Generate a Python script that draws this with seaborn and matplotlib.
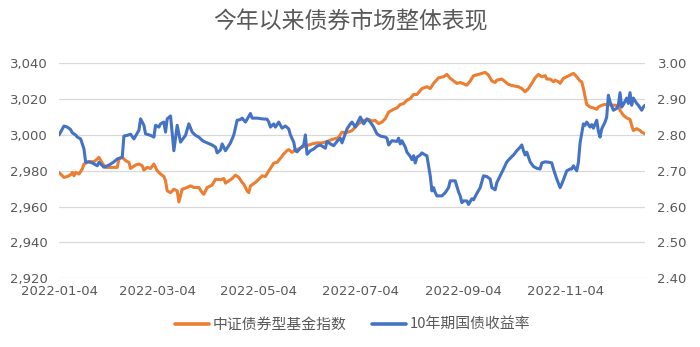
import numpy as np
import pandas as pd
import matplotlib
matplotlib.use("Agg")
import matplotlib.pyplot as plt
from matplotlib.ticker import FuncFormatter
import seaborn as sns

# ---------------- data ----------------
start_date = "2022-01-04"
title = "今年以来债券市场整体表现"
fund_name = "中证债券型基金指数"
yield_name = "10年期国债收益率"

# days since 2022-01-04
fund_days = [0, 3, 5, 7, 8, 9, 10, 12, 14, 15, 18, 21, 23, 24, 26, 28, 35, 36, 38, 40,
             42, 43, 46, 48, 50, 51, 53, 55, 57, 59, 61, 63, 64, 65, 67, 69, 71, 72, 74, 77,
             79, 81, 84, 86, 87, 89, 92, 94, 97, 99, 100, 102, 104, 106, 108, 110, 111, 113, 114, 115,
             118, 120, 122, 124, 126, 127, 129, 131, 133, 135, 137, 138, 140, 142, 143, 146, 149, 152, 155, 158,
             161, 164, 167, 168, 170, 172, 175, 176, 178, 180, 183, 186, 188, 190, 192, 194, 196, 198, 201, 203,
             205, 207, 209, 211, 213, 215, 218, 221, 223, 225, 228, 231, 233, 235, 239, 241, 245, 247, 249, 252,
             254, 256, 258, 260, 262, 263, 266, 268, 270, 273, 276, 278, 280, 282, 284, 286, 288, 290, 292, 293,
             295, 297, 298, 300, 301, 303, 305, 307, 309, 311, 313, 314, 315, 316, 317, 319, 321, 323, 324, 326,
             328, 330, 332, 334, 336, 337, 339, 341, 343, 344, 345, 347, 349, 350, 352]
fund_values = [2979.1, 2976.3, 2976.8, 2977.8, 2979.1, 2977.2, 2979.1, 2978.2, 2981.0, 2983.8,
               2985.1, 2985.1, 2986.6, 2987.5, 2984.3, 2981.9, 2981.9, 2986.6, 2987.5, 2985.7,
               2984.7, 2981.3, 2983.2, 2983.8, 2982.8, 2980.4, 2981.9, 2981.3, 2983.8, 2980.0,
               2978.2, 2976.8, 2974.4, 2968.8, 2967.8, 2969.7, 2968.8, 2962.6, 2969.7, 2970.7,
               2971.6, 2970.7, 2970.7, 2967.8, 2966.9, 2970.7, 2972.0, 2975.3, 2975.0, 2975.7,
               2973.1, 2974.4, 2975.7, 2977.6, 2976.3, 2973.5, 2972.5, 2968.8, 2967.8, 2971.6,
               2973.5, 2975.3, 2977.2, 2976.8, 2980.0, 2981.3, 2984.3, 2984.7, 2987.0, 2989.4,
               2991.3, 2991.8, 2990.3, 2991.7, 2991.8, 2993.2, 2994.1, 2995.0, 2995.6, 2995.6,
               2996.3, 2997.5, 2998.2, 2998.8, 3001.6, 3001.2, 3002.0, 3002.5, 3004.4, 3006.3,
               3008.1, 3008.7, 3007.8, 3008.1, 3006.3, 3007.2, 3009.1, 3012.8, 3014.3, 3015.1,
               3017.0, 3017.5, 3019.4, 3020.3, 3022.6, 3022.6, 3025.9, 3026.9, 3025.9, 3028.8,
               3031.9, 3032.5, 3033.8, 3031.6, 3028.8, 3029.3, 3027.8, 3030.1, 3033.1, 3033.8,
               3034.4, 3034.9, 3033.4, 3030.1, 3029.3, 3030.6, 3031.2, 3029.7, 3028.2, 3027.4,
               3026.9, 3025.9, 3024.1, 3025.9, 3028.8, 3031.9, 3033.8, 3032.5, 3033.1, 3031.2,
               3031.2, 3029.7, 3030.6, 3029.7, 3028.8, 3031.6, 3032.5, 3033.4, 3034.4, 3032.5,
               3030.1, 3029.7, 3025.9, 3021.3, 3017.0, 3015.6, 3015.1, 3014.3, 3015.6, 3016.6,
               3017.0, 3017.0, 3016.6, 3016.6, 3016.2, 3013.8, 3011.0, 3009.5, 3008.7, 3005.3,
               3002.5, 3003.5, 3002.5, 3001.6, 3000.6]

yield_days = [0, 3, 5, 7, 8, 10, 11, 13, 15, 16, 18, 20, 23, 24, 27, 30, 33, 35, 38, 39,
              41, 43, 45, 48, 49, 51, 52, 55, 57, 58, 60, 61, 63, 64, 65, 67, 69, 71, 73, 76,
              78, 80, 82, 84, 86, 87, 89, 92, 94, 95, 97, 98, 100, 103, 105, 107, 109, 110, 112, 113,
              115, 116, 119, 122, 125, 126, 127, 129, 130, 132, 134, 136, 138, 139, 141, 142, 143, 145, 147, 148,
              149, 151, 153, 155, 157, 160, 161, 163, 165, 167, 169, 170, 173, 175, 176, 178, 180, 181, 183, 185,
              187, 189, 191, 193, 196, 197, 198, 200, 203, 204, 205, 206, 208, 209, 211, 212, 213, 214, 215, 217,
              218, 220, 221, 223, 224, 225, 226, 227, 230, 232, 234, 235, 238, 240, 241, 242, 243, 245, 246, 248,
              249, 251, 253, 255, 257, 259, 260, 262, 263, 265, 267, 269, 271, 273, 275, 277, 278, 279, 280, 281,
              283, 285, 287, 289, 290, 292, 294, 296, 297, 299, 301, 302, 303, 305, 307, 308, 309, 311, 312, 313,
              315, 316, 317, 319, 320, 321, 323, 324, 325, 326, 328, 329, 330, 331, 333, 335, 336, 337, 338, 339,
              341, 342, 343, 344, 345, 347, 348, 350, 351, 352]
yield_values = [2.800, 2.825, 2.822, 2.815, 2.806, 2.800, 2.794, 2.789, 2.761, 2.724,
                2.725, 2.722, 2.714, 2.724, 2.710, 2.716, 2.725, 2.733, 2.738, 2.797,
                2.799, 2.802, 2.789, 2.813, 2.845, 2.827, 2.803, 2.799, 2.794, 2.827,
                2.822, 2.831, 2.836, 2.808, 2.845, 2.853, 2.756, 2.827, 2.780, 2.799,
                2.831, 2.808, 2.799, 2.794, 2.785, 2.782, 2.778, 2.772, 2.766, 2.750,
                2.758, 2.775, 2.756, 2.778, 2.800, 2.841, 2.843, 2.847, 2.836, 2.844,
                2.860, 2.847, 2.847, 2.845, 2.844, 2.836, 2.822, 2.831, 2.822, 2.836,
                2.819, 2.825, 2.817, 2.800, 2.780, 2.756, 2.753, 2.763, 2.772, 2.800,
                2.746, 2.756, 2.761, 2.769, 2.772, 2.763, 2.782, 2.775, 2.770, 2.782,
                2.791, 2.778, 2.817, 2.831, 2.836, 2.822, 2.841, 2.850, 2.831, 2.845,
                2.836, 2.822, 2.803, 2.797, 2.794, 2.791, 2.772, 2.784, 2.782, 2.791,
                2.775, 2.784, 2.766, 2.752, 2.740, 2.731, 2.742, 2.722, 2.738, 2.744,
                2.750, 2.744, 2.742, 2.686, 2.644, 2.653, 2.639, 2.630, 2.630, 2.639,
                2.653, 2.672, 2.672, 2.641, 2.630, 2.611, 2.616, 2.616, 2.606, 2.622,
                2.619, 2.637, 2.653, 2.686, 2.684, 2.677, 2.653, 2.647, 2.667, 2.686,
                2.705, 2.725, 2.735, 2.744, 2.756, 2.766, 2.772, 2.756, 2.744, 2.752,
                2.725, 2.712, 2.707, 2.705, 2.722, 2.725, 2.724, 2.722, 2.705, 2.677,
                2.653, 2.663, 2.675, 2.700, 2.705, 2.705, 2.714, 2.700, 2.724, 2.778,
                2.831, 2.827, 2.836, 2.822, 2.829, 2.819, 2.841, 2.810, 2.794, 2.817,
                2.836, 2.850, 2.911, 2.892, 2.869, 2.874, 2.883, 2.918, 2.878, 2.885,
                2.903, 2.888, 2.918, 2.883, 2.903, 2.888, 2.883, 2.869, 2.878, 2.883]

x_tick_labels = ["2022-01-04", "2022-03-04", "2022-05-04", "2022-07-04", "2022-09-04", "2022-11-04"]
left_ticks = [2920, 2940, 2960, 2980, 3000, 3020, 3040]
right_ticks = [2.40, 2.50, 2.60, 2.70, 2.80, 2.90, 3.00]
end_day = 352

# ---------------- build frames ----------------
t0 = pd.Timestamp(start_date)
fund_df = pd.DataFrame({"date": t0 + pd.to_timedelta(fund_days, unit="D"), "value": fund_values})
yield_df = pd.DataFrame({"date": t0 + pd.to_timedelta(yield_days, unit="D"), "value": yield_values})

sns.set_style("white")
plt.rcParams["font.family"] = ["DejaVu Sans", "Noto Sans CJK SC"]

TEXT = "#595959"
ORANGE = "#ED7D31"
BLUE = "#4472C4"
GRID = "#D9D9D9"

fig = plt.figure(figsize=(7.0, 3.47), dpi=100)
ax = fig.add_axes([59 / 700, 1 - 278.3 / 347, (645 - 59) / 700, (278.3 - 63.3) / 347])
ax2 = ax.twinx()

sns.lineplot(data=fund_df, x="date", y="value", ax=ax, color=ORANGE, linewidth=2.2,
             estimator=None, sort=False, label=fund_name, legend=False)
sns.lineplot(data=yield_df, x="date", y="value", ax=ax2, color=BLUE, linewidth=2.2,
             estimator=None, sort=False, label=yield_name, legend=False)

ax.set_xlim(t0, t0 + pd.Timedelta(days=end_day))
ax.set_ylim(left_ticks[0], left_ticks[-1])
ax2.set_ylim(right_ticks[0], right_ticks[-1])

xt = [pd.Timestamp(s) for s in x_tick_labels]
ax.set_xticks(xt)
ax.set_xticklabels(x_tick_labels)
ax.set_yticks(left_ticks)
ax.yaxis.set_major_formatter(FuncFormatter(lambda v, p: f"{v:,.0f}"))
ax2.set_yticks(right_ticks)
ax2.yaxis.set_major_formatter(FuncFormatter(lambda v, p: f"{v:.2f}"))

for a in (ax, ax2):
    for s in a.spines.values():
        s.set_visible(False)
    a.set_xlabel("")
    a.set_ylabel("")
    a.tick_params(length=0, labelsize=9.5, labelcolor=TEXT)
ax.tick_params(axis="y", pad=8)
ax2.tick_params(axis="y", pad=9)
ax.tick_params(axis="x", pad=4.5)

ax.grid(axis="y", color=GRID, linewidth=0.9)
ax.grid(axis="x", visible=False)
ax2.grid(False)
ax.set_axisbelow(True)

fig.text(0.5, 1 - 22 / 347, title, ha="center", va="center", fontsize=16.5, color=TEXT,
         family=["Noto Sans CJK SC", "DejaVu Sans"])

h1, l1 = ax.get_legend_handles_labels()
h2, l2 = ax2.get_legend_handles_labels()
leg = fig.legend(h1 + h2, l1 + l2, loc="center", bbox_to_anchor=(0.504, 1 - 325 / 347), ncol=2,
                 frameon=False, handlelength=2.3, handletextpad=0.25, columnspacing=1.7,
                 prop={"family": ["Noto Sans CJK SC", "DejaVu Sans"], "size": 10.7})
for t in leg.get_texts():
    t.set_color(TEXT)
for line in leg.get_lines():
    line.set_linewidth(2.6)

fig.savefig("out.png", dpi=100)
